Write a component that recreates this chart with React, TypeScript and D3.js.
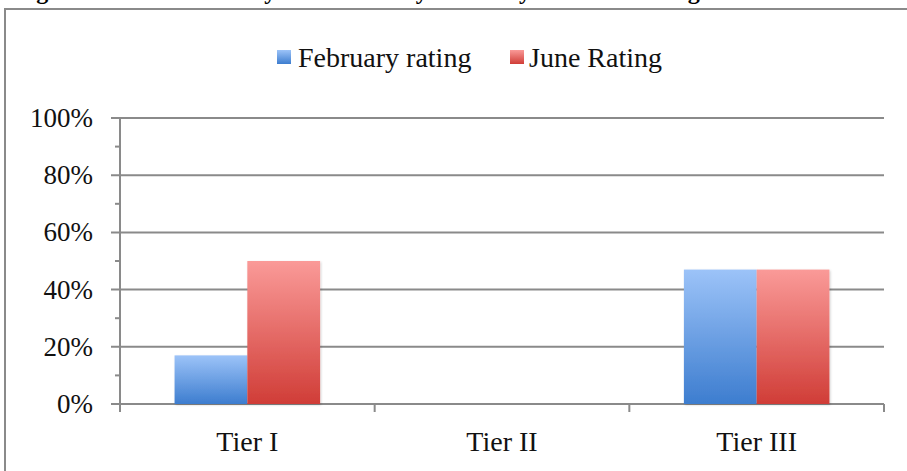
import React from "react";
import * as d3 from "d3";

const categories = ["Tier I", "Tier II", "Tier III"];
const seriesNames = ["February rating", "June Rating"];
const february = [0.17, 0, 0.47];
const june = [0.5, 0, 0.47];
const yTicks = [0, 0.2, 0.4, 0.6, 0.8, 1.0];
const minorTicks = [0.1, 0.3, 0.5, 0.7, 0.9];
const titleText = "Figure 4: Tenured faculty in each tier by February and June ratings.";

const W = 907;
const H = 471;
const margin = { left: 120, right: 23, top: 118, bottom: 67 };

export default function App() {
  const x0 = d3
    .scaleBand<string>()
    .domain(categories)
    .range([margin.left, W - margin.right])
    .paddingInner(0)
    .paddingOuter(0);
  const x1 = d3
    .scaleBand<string>()
    .domain(seriesNames)
    .range([0, x0.bandwidth()])
    .paddingInner(0)
    .paddingOuter(0.75);
  const y = d3.scaleLinear().domain([0, 1]).range([H - margin.bottom, margin.top]);
  const fmt = d3.format(".0%");
  const series = [february, june];
  const grads = ["gBlue", "gRed"];
  const font = "'Liberation Serif', 'Times New Roman', serif";
  const gray = "#8a8a8a";
  const x0Left = margin.left;
  const xRight = W - margin.right;
  const boundaries = [...categories.map((c) => x0(c) as number), xRight];

  return (
    <div style={{ position: "fixed", left: 0, top: 0 }}>
      <svg width={W} height={H} style={{ display: "block", background: "#fff" }}>
        <defs>
          <linearGradient id="gBlue" x1="0" y1="0" x2="0" y2="1">
            <stop offset="0" stopColor="#9cc3f8" />
            <stop offset="1" stopColor="#3d7dcf" />
          </linearGradient>
          <linearGradient id="gRed" x1="0" y1="0" x2="0" y2="1">
            <stop offset="0" stopColor="#fa9a98" />
            <stop offset="1" stopColor="#d03d37" />
          </linearGradient>
          <filter id="sh" x="-10%" y="-10%" width="120%" height="120%">
            <feDropShadow dx="1" dy="1" stdDeviation="1.2" floodColor="#000" floodOpacity="0.18" />
          </filter>
        </defs>

        {/* clipped document title above the chart */}
        <text x={15} y={-1} fontFamily={font} fontWeight="bold" fontSize={24} fill="#000">
          {titleText}
        </text>

        {/* chart frame */}
        <rect x={5} y={9} width={W + 10} height={H + 10} fill="#fff" stroke={gray} strokeWidth={2} />

        {/* legend */}
        <g fontFamily={font} fontSize={28} fill="#111">
          <rect x={277} y={50} width={14} height={14} fill="url(#gBlue)" />
          <text x={298} y={67}>{seriesNames[0]}</text>
          <rect x={510} y={50} width={14} height={14} fill="url(#gRed)" />
          <text x={529} y={67}>{seriesNames[1]}</text>
        </g>

        {/* gridlines */}
        {yTicks.map((t) => (
          <line key={"g" + t} x1={x0Left - 9} x2={xRight} y1={y(t)} y2={y(t)} stroke={gray} strokeWidth={2} />
        ))}
        {minorTicks.map((t) => (
          <line key={"m" + t} x1={x0Left - 5} x2={x0Left} y1={y(t)} y2={y(t)} stroke={gray} strokeWidth={2} />
        ))}
        {/* y axis */}
        <line x1={x0Left} x2={x0Left} y1={y(1)} y2={y(0) + 8} stroke={gray} strokeWidth={2} />
        {/* category ticks */}
        {boundaries.map((bx, i) => (
          <line key={"c" + i} x1={bx} x2={bx} y1={y(0)} y2={y(0) + 8} stroke={gray} strokeWidth={2} />
        ))}

        {/* bars */}
        {categories.map((c, ci) => (
          <g key={c} transform={`translate(${x0(c)},0)`}>
            {series.map((s, si) =>
              s[ci] > 0 ? (
                <rect
                  key={si}
                  x={x1(seriesNames[si])}
                  y={y(s[ci])}
                  width={x1.bandwidth()}
                  height={y(0) - y(s[ci])}
                  fill={`url(#${grads[si]})`}
                  filter="url(#sh)"
                />
              ) : null
            )}
          </g>
        ))}

        {/* y tick labels */}
        <g fontFamily={font} fontSize={27} fill="#111" textAnchor="end">
          {yTicks.map((t) => (
            <text key={"l" + t} x={93} y={y(t) + 9}>
              {fmt(t)}
            </text>
          ))}
        </g>

        {/* category labels */}
        <g fontFamily={font} fontSize={28} fill="#111" textAnchor="middle">
          {categories.map((c) => (
            <text key={"t" + c} x={(x0(c) as number) + x0.bandwidth() / 2} y={451}>
              {c}
            </text>
          ))}
        </g>
      </svg>
    </div>
  );
}
